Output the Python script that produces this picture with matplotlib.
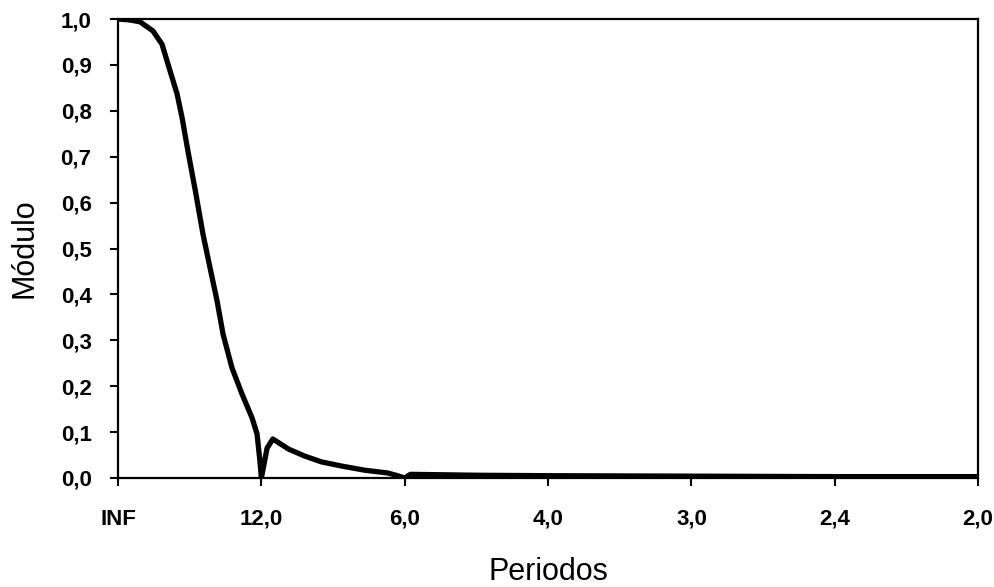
import matplotlib
matplotlib.use("Agg")
import matplotlib.pyplot as plt
import numpy as np

# frequency position (units of 1/12 cycle) and gain
freq = [0.0, 0.08, 0.153, 0.244, 0.307, 0.363, 0.412, 0.447, 0.488, 0.54,
        0.593, 0.642, 0.691, 0.733, 0.795, 0.865, 0.935, 0.97, 0.99, 1.0,
        1.04, 1.08, 1.19, 1.30, 1.42, 1.56, 1.72, 1.88, 1.95, 2.0, 2.04,
        2.5, 3.0, 4.0, 5.0, 6.0]
gain = [1.0, 0.998, 0.994, 0.974, 0.945, 0.887, 0.837, 0.785, 0.712, 0.625,
        0.531, 0.458, 0.386, 0.313, 0.240, 0.183, 0.131, 0.096, 0.037, 0.0,
        0.065, 0.085, 0.063, 0.048, 0.035, 0.026, 0.017, 0.011, 0.005, 0.0, 0.008,
        0.006, 0.005, 0.004, 0.003, 0.003]

xticks = [0, 1, 2, 3, 4, 5, 6]
xlabels = ["INF", "12,0", "6,0", "4,0", "3,0", "2,4", "2,0"]
yticks = [0.0, 0.1, 0.2, 0.3, 0.4, 0.5, 0.6, 0.7, 0.8, 0.9, 1.0]
ylabels = ["0,0", "0,1", "0,2", "0,3", "0,4", "0,5", "0,6", "0,7", "0,8", "0,9", "1,0"]

plt.rcParams['font.family'] = ['Liberation Sans', 'DejaVu Sans']

fig = plt.figure(figsize=(9.95, 5.87), dpi=100)
ax = fig.add_axes([0.1186, 0.1857, 0.8644, 0.7819])
ax.plot(freq, gain, color='black', lw=3.8, solid_joinstyle='round',
        solid_capstyle='round')

ax.set_xlim(0, 6)
ax.set_ylim(0, 1)
ax.set_xticks(xticks)
ax.set_xticklabels(xlabels, fontsize=16, fontweight='bold')
ax.set_yticks(yticks)
ax.set_yticklabels(ylabels, fontsize=16, fontweight='bold')
ax.tick_params(direction='out', length=6, width=1.5)
ax.tick_params(axis='x', pad=16)
ax.tick_params(axis='y', pad=13)
for s in ax.spines.values():
    s.set_linewidth(1.6)

ax.set_xlabel("Periodos", fontsize=22, labelpad=20)
ax.set_ylabel("Módulo", fontsize=22, labelpad=15)

fig.savefig("out.png", dpi=100)
